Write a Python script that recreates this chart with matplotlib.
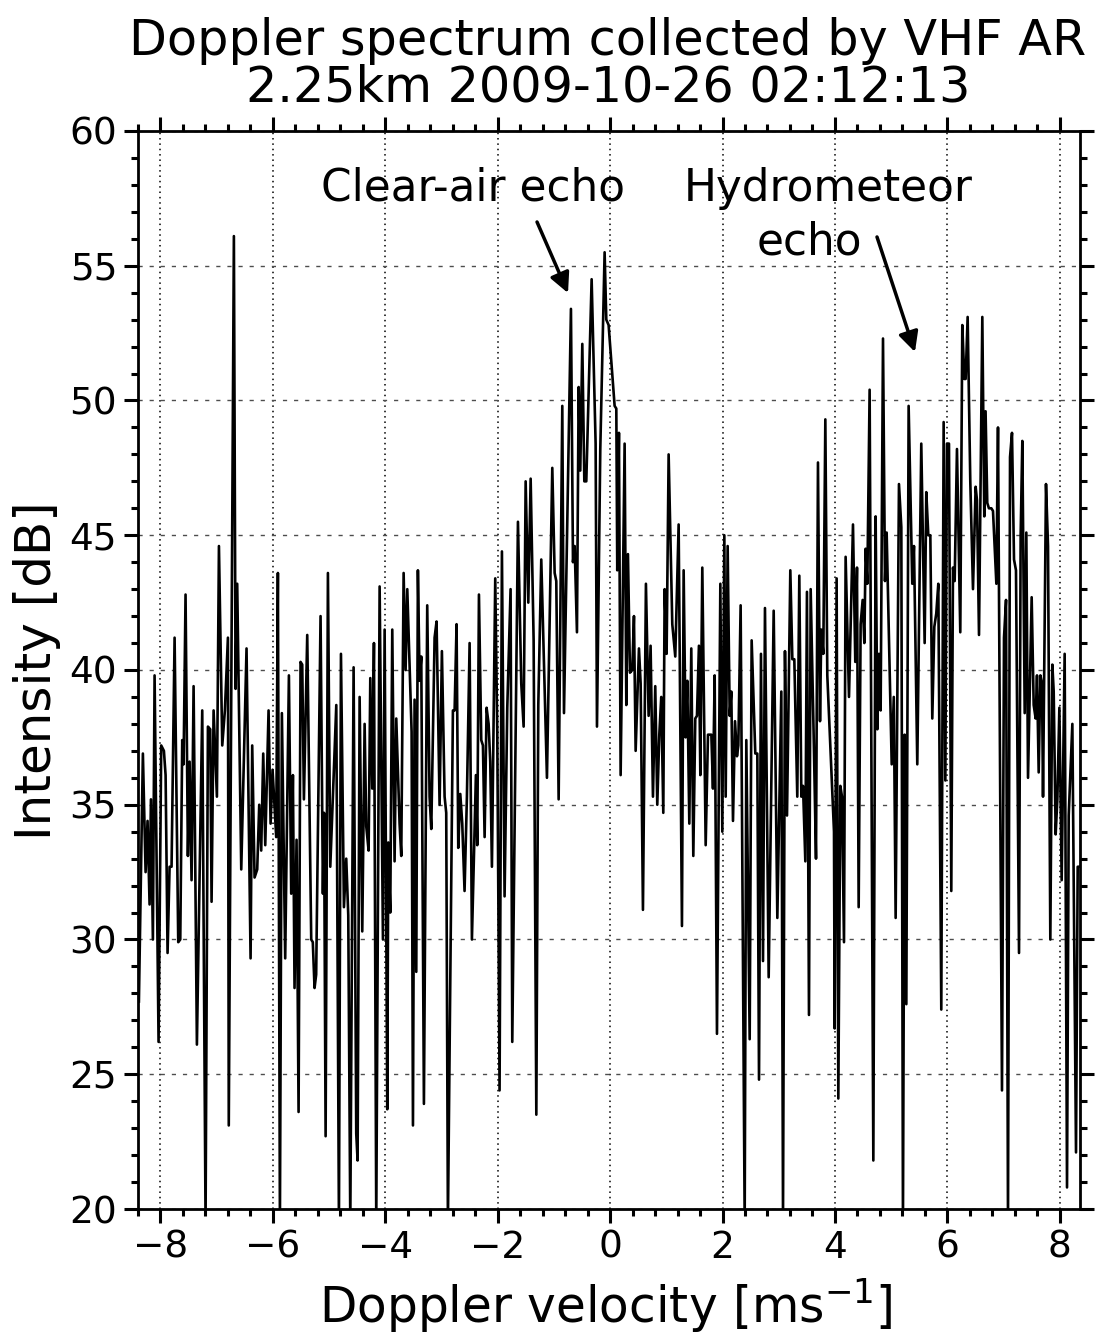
import numpy as np
import matplotlib
matplotlib.use("Agg")
import matplotlib.pyplot as plt
from matplotlib.ticker import MultipleLocator

# Doppler spectrum (vertices of the trace)
velocity = [
    -8.384, -8.313, -8.265, -8.230, -8.194, -8.170, -8.135, -8.105, -8.034, -7.987,
    -7.939, -7.909, -7.874, -7.838, -7.803, -7.749, -7.684, -7.648, -7.613, -7.589,
    -7.554, -7.512, -7.482, -7.447, -7.411, -7.352, -7.257, -7.198, -7.156, -7.115,
    -7.091, -7.055, -6.996, -6.960, -6.901, -6.854, -6.800, -6.785,
    -6.694, -6.664, -6.635, -6.563, -6.469, -6.397, -6.368, -6.326, -6.279, -6.243,
    -6.208, -6.172, -6.136, -6.077, -6.041, -6.006, -5.941, -5.911, -5.875, -5.840,
    -5.781, -5.715, -5.674, -5.644, -5.615, -5.579, -5.543, -5.508, -5.478, -5.448,
    -5.389, -5.318, -5.290, -5.259, -5.230, -5.152,
    -5.110, -5.090, -5.062, -5.021, -4.979, -4.872, -4.825, -4.789, -4.736, -4.695,
    -4.659, -4.623, -4.564, -4.517, -4.493, -4.457, -4.410, -4.368, -4.339, -4.297,
    -4.267, -4.232, -4.202, -4.161, -4.101, -4.042, -4.012, -3.965, -3.947, -3.912,
    -3.876, -3.835, -3.805, -3.746, -3.716, -3.674, -3.639, -3.609, -3.532, -3.508,
    -3.479, -3.449, -3.420, -3.390, -3.360,
    -3.313, -3.254, -3.212, -3.182, -3.123, -3.088, -3.034, -2.993, -2.945, -2.916,
    -2.886, -2.797, -2.767, -2.732, -2.702, -2.666, -2.631, -2.590, -2.548, -2.500,
    -2.459, -2.411, -2.388, -2.364, -2.334, -2.293, -2.263, -2.233, -2.198, -2.162,
    -2.133, -2.103, -2.044, -2.008, -1.967, -1.925, -1.878, -1.830, -1.771,
    -1.741, -1.640, -1.581, -1.539, -1.503, -1.456, -1.414, -1.361, -1.313, -1.278,
    -1.225, -1.124, -1.029, -0.987, -0.958, -0.916, -0.851, -0.821, -0.697, -0.661,
    -0.631, -0.590, -0.560, -0.531, -0.495, -0.459, -0.424, -0.329, -0.258, -0.234,
    -0.175, -0.098,
    -0.068, -0.027, 0.033, 0.080, 0.110, 0.127, 0.157, 0.187, 0.258, 0.288,
    0.317, 0.353, 0.394, 0.424, 0.454, 0.513, 0.543, 0.584, 0.637, 0.685,
    0.720, 0.762, 0.803, 0.839, 0.875, 0.910, 0.946, 0.970, 1.005, 1.041,
    1.106, 1.159, 1.219, 1.278, 1.308, 1.343, 1.373, 1.409, 1.444, 1.480,
    1.515, 1.545, 1.580, 1.605, 1.640,
    1.700, 1.741, 1.801, 1.830, 1.860, 1.901, 1.961, 1.996, 2.032, 2.056,
    2.091, 2.127, 2.156, 2.186, 2.222, 2.257, 2.281, 2.322, 2.394, 2.423,
    2.483, 2.518, 2.583, 2.619, 2.649, 2.684, 2.720, 2.755, 2.821, 2.910,
    2.975, 3.046, 3.076, 3.111, 3.147, 3.206, 3.242, 3.277,
    3.330, 3.366, 3.402, 3.432, 3.473, 3.502, 3.538, 3.568, 3.627, 3.663,
    3.698, 3.734, 3.757, 3.793, 3.829, 3.864, 3.983, 3.995, 4.030, 4.060,
    4.096, 4.125, 4.161, 4.190, 4.250, 4.321, 4.362, 4.392, 4.422, 4.457,
    4.493, 4.523, 4.546, 4.576, 4.617, 4.683, 4.724, 4.754, 4.783, 4.813,
    4.855, 4.890, 4.920, 5.010, 5.047,
    5.080, 5.139, 5.181, 5.210, 5.240, 5.270, 5.311, 5.376, 5.406, 5.465,
    5.536, 5.596, 5.625, 5.661, 5.697, 5.732, 5.768, 5.803, 5.839, 5.892,
    5.934, 5.964, 5.993, 6.029, 6.070, 6.100, 6.130, 6.171, 6.230, 6.266,
    6.302, 6.325, 6.361, 6.408, 6.456, 6.503, 6.527, 6.563, 6.622, 6.657,
    6.680, 6.710, 6.740, 6.783, 6.812, 6.872, 6.901, 6.972, 7.008, 7.044,
    7.079, 7.115, 7.150, 7.186, 7.221, 7.275, 7.304, 7.334, 7.376, 7.405,
    7.435, 7.500, 7.536, 7.571, 7.595, 7.625, 7.655, 7.684, 7.702, 7.755,
    7.791, 7.832, 7.868, 7.892, 7.927, 7.957, 7.993, 8.034, 8.087, 8.129,
    8.159, 8.224, 8.289, 8.319, 8.343,
]

intensity = [
    27.7, 36.9, 32.5, 34.4, 31.3, 35.2, 30.0, 39.8, 26.2, 37.2,
    37.0, 36.1, 29.5, 32.7, 32.7, 41.2, 29.9, 30.0, 37.4, 36.5,
    42.8, 33.1, 36.6, 32.2, 39.4, 26.1, 38.5, 19.5, 37.9, 37.8,
    31.4, 38.5, 35.3, 44.6, 37.2, 38.5, 41.2, 23.1,
    56.1, 39.3, 43.2, 32.6, 40.8, 29.3, 37.2, 32.3, 32.6, 35.0,
    33.3, 36.9, 33.5, 38.5, 34.3, 36.3, 33.8, 43.6, 19.5, 38.4,
    29.3, 39.8, 31.7, 36.1, 28.2, 33.7, 23.6, 40.3, 40.2, 35.2,
    41.3, 30.0, 29.9, 28.2, 28.7, 42.0,
    31.7, 34.7, 22.7, 43.6, 32.7, 38.7, 19.5, 40.6, 31.2, 33.0,
    30.9, 19.5, 40.1, 22.8, 21.8, 39.0, 30.3, 38.0, 34.2, 33.3,
    39.7, 35.6, 41.0, 19.5, 43.1, 30.0, 41.5, 23.7, 33.6, 31.0,
    41.5, 32.9, 38.2, 34.3, 33.1, 43.6, 40.0, 43.0, 37.7, 23.1,
    38.9, 28.8, 43.7, 39.6, 40.5,
    23.9, 42.4, 35.3, 34.1, 41.2, 41.8, 35.0, 40.7, 35.3, 34.7,
    19.5, 38.5, 38.5, 41.7, 33.4, 35.4, 34.3, 31.8, 35.3, 41.0,
    30.0, 34.1, 36.1, 33.5, 42.8, 37.4, 37.2, 33.8, 38.6, 38.0,
    36.6, 32.7, 43.4, 37.7, 24.4, 44.4, 31.6, 38.6, 43.0,
    26.2, 45.5, 39.5, 37.9, 47.0, 42.5, 47.1, 41.1, 23.5, 38.7,
    44.1, 36.0, 47.5, 43.6, 43.3, 35.2, 49.8, 38.4, 53.4, 44.0,
    44.6, 41.4, 50.5, 47.4, 52.1, 47.0, 47.0, 54.5, 48.4, 37.9,
    48.2, 55.5,
    53.0, 52.8, 51.1, 49.8, 49.7, 43.7, 48.8, 36.1, 48.4, 38.7,
    44.3, 39.9, 40.0, 42.0, 37.0, 40.8, 39.5, 31.1, 43.2, 38.3,
    40.9, 35.3, 39.4, 35.0, 37.6, 39.0, 34.7, 43.0, 40.6, 48.0,
    41.7, 40.5, 45.4, 30.5, 43.7, 37.5, 39.6, 34.3, 40.8, 33.1,
    38.2, 38.3, 40.9, 36.1, 43.8,
    33.5, 37.6, 37.6, 35.6, 39.8, 26.5, 43.2, 34.0, 45.0, 35.3,
    44.6, 38.3, 39.2, 34.4, 38.1, 36.8, 37.2, 42.4, 19.5, 37.4,
    26.3, 41.1, 36.9, 36.9, 24.8, 40.6, 29.2, 42.3, 28.6, 42.2,
    30.8, 39.2, 19.7, 40.7, 34.6, 43.7, 40.4, 40.4,
    35.3, 43.5, 35.3, 35.7, 32.9, 42.9, 27.2, 43.0, 37.0, 33.0,
    47.7, 38.1, 41.5, 40.6, 49.3, 39.8, 34.0, 26.7, 43.4, 24.1,
    35.7, 35.3, 29.9, 44.2, 39.0, 45.4, 40.3, 43.8, 31.2, 41.7,
    42.6, 41.0, 44.5, 43.2, 50.4, 21.8, 45.7, 37.8, 40.6, 38.5,
    52.3, 43.3, 45.1, 36.5, 39.0,
    30.8, 46.9, 45.3, 19.5, 37.6, 27.6, 49.8, 43.2, 44.6, 36.5,
    48.4, 41.0, 46.6, 45.0, 45.0, 38.2, 41.6, 42.1, 43.2, 27.4,
    49.2, 35.9, 48.4, 48.4, 31.8, 43.8, 43.3, 48.2, 41.4, 52.8,
    50.8, 50.8, 53.1, 47.0, 43.0, 46.8, 46.3, 41.3, 53.1, 45.7,
    49.6, 46.2, 46.0, 46.0, 45.9, 43.2, 49.0, 24.4, 41.2, 42.6,
    19.5, 47.9, 48.8, 44.1, 43.7, 29.5, 45.0, 48.5, 38.4, 45.1,
    36.0, 42.7, 38.7, 38.2, 39.8, 36.2, 39.8, 39.5, 35.3, 46.9,
    44.6, 30.0, 40.2, 39.2, 33.9, 35.2, 38.6, 32.2, 40.6, 20.8,
    34.6, 38.0, 22.1, 32.7, 32.7,
]

x_limits = (-8.4, 8.36)
y_limits = (20, 60)

fig = plt.figure(figsize=(11.01, 13.33), dpi=100)
ax = fig.add_axes([138 / 1101, 1 - 1209 / 1333, 942 / 1101, 1078 / 1333])

ax.plot(velocity, intensity, color="k", lw=1.9)

ax.set_xlim(*x_limits)
ax.set_ylim(*y_limits)
ax.xaxis.set_major_locator(MultipleLocator(2))
ax.xaxis.set_minor_locator(MultipleLocator(0.4))
ax.yaxis.set_major_locator(MultipleLocator(5))
ax.yaxis.set_minor_locator(MultipleLocator(1))

# grid: dotted verticals, dashed horizontals
ax.grid(axis="x", which="major", color="k", lw=1.1, linestyle=(0, (1, 2.5)))
ax.grid(axis="y", which="major", color="0.3", lw=1.0, linestyle=(0, (3, 5)))

for s in ax.spines.values():
    s.set_linewidth(2)
ax.tick_params(which="both", direction="out", top=True, right=True, width=2.2)
ax.tick_params(which="major", length=10, labelsize=27, pad=5)
ax.tick_params(which="minor", length=5)

ax.set_xlabel("Doppler velocity [ms$^{-1}$]", fontsize=35)
ax.xaxis.set_label_coords(0.497, -0.063)
ax.xaxis.label.set_va("top")
ax.set_ylabel("Intensity [dB]", fontsize=36)
ax.yaxis.set_label_coords(-0.082, 0.499)

fig.text(608 / 1101, 1 - 55 / 1333, "Doppler spectrum collected by VHF AR",
         ha="center", va="baseline", fontsize=35.5)
fig.text(608 / 1101, 1 - 102 / 1333, "2.25km 2009-10-26 02:12:13",
         ha="center", va="baseline", fontsize=35.5)

# annotations
ax.text(0.356, 0.947, "Clear-air echo", transform=ax.transAxes,
        ha="center", va="center", fontsize=31.5)
ax.text(0.7325, 0.947, "Hydrometeor", transform=ax.transAxes,
        ha="center", va="center", fontsize=31.5)
ax.text(0.713, 0.897, "echo", transform=ax.transAxes,
        ha="center", va="center", fontsize=31.5)
arrow = dict(arrowstyle="-|>", color="k", lw=2.5, mutation_scale=30, shrinkA=0, shrinkB=0)
ax.annotate("", xy=(0.4565, 0.8497), xytext=(0.4236, 0.9156),
            xycoords="axes fraction", textcoords="axes fraction", arrowprops=arrow)
ax.annotate("", xy=(0.8248, 0.795), xytext=(0.7845, 0.9017),
            xycoords="axes fraction", textcoords="axes fraction", arrowprops=arrow)

fig.savefig("out.png", dpi=100)
